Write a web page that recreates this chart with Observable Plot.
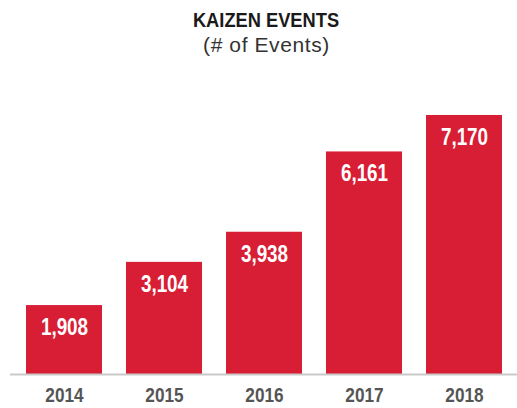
<!DOCTYPE html>
<html>
<head>
<meta charset="utf-8">
<script src="https://cdn.jsdelivr.net/npm/d3@7"></script>
<script src="https://cdn.jsdelivr.net/npm/@observablehq/plot@0.6"></script>
<style>
  html, body { margin: 0; padding: 0; background: #fff; }
  #wrap { width: 517px; height: 408px; position: relative; overflow: hidden; }
  .title { position: absolute; left: 8px; width: 517px; text-align: center; font-family: "Liberation Sans", Arial, sans-serif; }
  .title span { display: inline-block; }
  #t1 { top: 8px; font-size: 21px; font-weight: bold; color: #1a1a1a; }
  #t1 span { transform: scaleX(0.87); }
  #t2 { top: 33px; font-size: 21px; color: #333; letter-spacing: 0.6px; }
  #chart { position: absolute; left: 0; top: 62px; }
</style>
</head>
<body>
<div id="wrap">
  <div class="title" id="t1"><span>KAIZEN EVENTS</span></div>
  <div class="title" id="t2"><span>(# of Events)</span></div>
  <div id="chart"></div>
</div>
<script>
const years = ["2014", "2015", "2016", "2017", "2018"];
const events = [1908, 3104, 3938, 6161, 7170];

const data = years.map((y, i) => ({year: y, value: events[i]}));
const fmt = d3.format(",");

const chart = Plot.plot({
  width: 517,
  height: 346,
  marginLeft: 10,
  marginRight: 0,
  marginTop: 23,
  marginBottom: 34,
  style: {fontFamily: "'Liberation Sans', Arial, sans-serif", background: "#fff"},
  x: {domain: years, paddingInner: 0.244, paddingOuter: 0.144, label: null},
  y: {domain: [0, 8000], axis: null},
  marks: [
    Plot.barY(data, {x: "year", y: "value", fill: "#d81e35"}),
    Plot.ruleY([0], {stroke: "#c9c9c9", strokeWidth: 2}),
    Plot.text(data, {x: "year", y: "value", text: d => fmt(d.value), lineAnchor: "top", dy: 13,
      fill: "#fff", fontSize: 23, fontWeight: "bold"}),
    Plot.axisX({tickSize: 0, tickPadding: 13, fontSize: 21, fontWeight: "bold", color: "#555", label: null})
  ]
});
document.getElementById("chart").appendChild(chart);
// condense the glyphs horizontally (no condensed font installed)
chart.querySelectorAll("text").forEach(t => {
  const w = t.getComputedTextLength();
  if (w > 0) {
    t.setAttribute("textLength", (w * 0.82).toFixed(1));
    t.setAttribute("lengthAdjust", "spacingAndGlyphs");
  }
});
</script>
</body>
</html>
